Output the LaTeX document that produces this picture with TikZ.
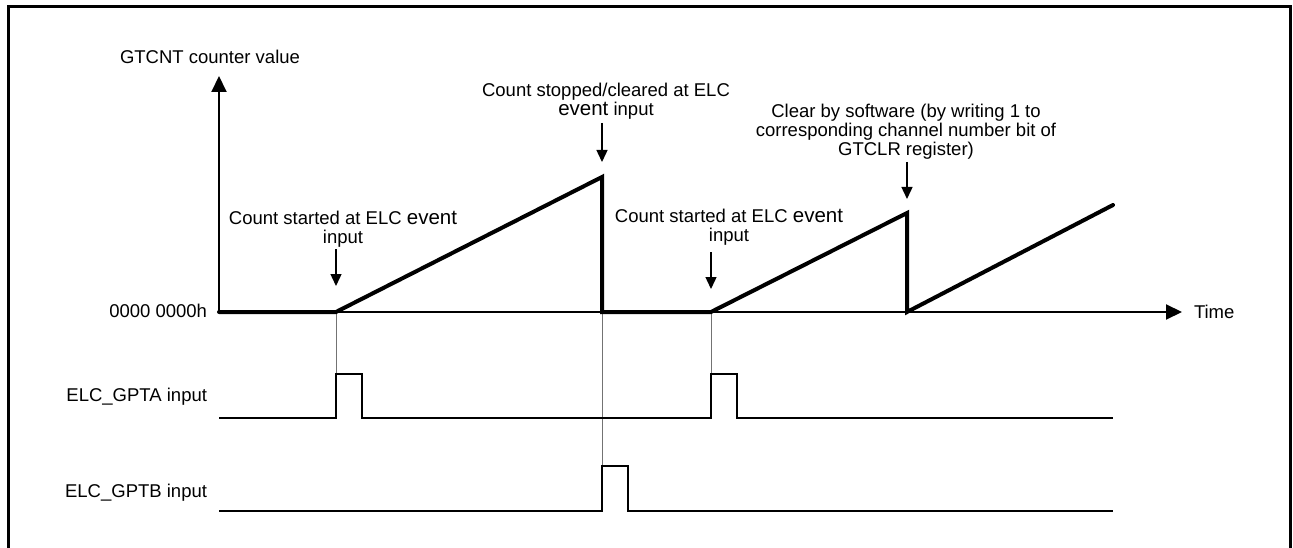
\documentclass[tikz,border=0pt]{standalone}
\usepackage{fontspec}
\setmainfont{Liberation Sans}
\usetikzlibrary{arrows.meta}
\newcommand\evbig{{\fontsize{20.5}{19}\selectfont event}}
\begin{document}
\begin{tikzpicture}[x=1pt,y=-1pt,
  every node/.style={font=\fontsize{18.5}{19}\selectfont, inner sep=0pt, outer sep=0pt},
  frameline/.style={line width=3pt},
  axisline/.style={line width=2pt, -{Triangle[length=16pt,width=15pt]}},
  countline/.style={line width=4pt, line join=miter, line cap=round},
  pulseline/.style={line width=1.6pt, line join=miter},
  guideline/.style={line width=0.8pt, black!55},
  annot/.style={line width=1.4pt, -{Triangle[length=12pt,width=11pt]}},
  lbl/.style={align=center}]
\useasboundingbox (0,0) rectangle (1293,548);
\clip (0,0) rectangle (1293,548);
% frame
\draw[frameline] (8,570) -- (8,6.5) -- (1290,6.5) -- (1290,570);

% axes
\coordinate (O) at (219,312);
\coordinate (ytip) at (219,76);
\coordinate (xtip) at (1182,312);
\draw[axisline] (O) -- (ytip);
\draw[axisline] (O) -- (xtip);
\node (ylab) at (210,57) {GTCNT counter value};
\node[anchor=west] (tlab) at (1194,312) {Time};
\node[anchor=east] (zlab) at (207,311) {0000 0000h};
\node[anchor=east] (alab) at (207,397) {ELC\_GPTA input};
\node[anchor=east] (blab) at (207,493) {ELC\_GPTB input};

% guide lines
\coordinate (g1t) at (336,312);
\coordinate (g1b) at (336,374);
\coordinate (g2t) at (602,312);
\coordinate (g2b) at (602,466);
\coordinate (g3t) at (711,312);
\coordinate (g3b) at (711,374);
\draw[guideline] (g1t) -- (g1b);
\draw[guideline] (g2t) -- (g2b);
\draw[guideline] (g3t) -- (g3b);

% counter value
\draw[countline] (O) -- (336,312) -- (602,177) -- (602,312) -- (711,312)
  -- (907,213) -- (907,312) -- (1113,205);

% pulses
\draw[pulseline] (219,418) -- (336,418) -- (336,374) -- (362,374) -- (362,418)
  -- (711,418) -- (711,374) -- (737,374) -- (737,418) -- (1113,418);
\draw[pulseline] (219,511) -- (602,511) -- (602,466) -- (628,466) -- (628,511)
  -- (1113,511);

% annotations
\node[lbl] (n1) at (343,229) {Count started at ELC \evbig\\input};
\node[lbl] (n2) at (606,101) {Count stopped/cleared at ELC\\\evbig{} input};
\node[lbl] (n3) at (906,132) {Clear by software (by writing 1 to\\corresponding channel number bit of\\GTCLR register)};
\node[lbl] (n4) at (729,227) {Count started at ELC \evbig\\input};

\coordinate (a1s) at (336,249); \coordinate (a1e) at (336,286);
\coordinate (a2s) at (602,123); \coordinate (a2e) at (602,162);
\coordinate (a3s) at (907,162); \coordinate (a3e) at (907,199);
\coordinate (a4s) at (711,252); \coordinate (a4e) at (711,289);
\draw[annot] (a1s) -- (a1e);
\draw[annot] (a2s) -- (a2e);
\draw[annot] (a3s) -- (a3e);
\draw[annot] (a4s) -- (a4e);
\end{tikzpicture}
\end{document}
